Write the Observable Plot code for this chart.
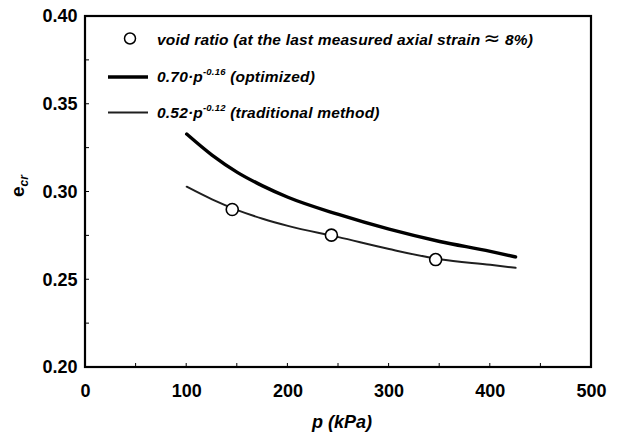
<!DOCTYPE html>
<html><head><meta charset="utf-8">
<script src="https://cdn.jsdelivr.net/npm/d3@7"></script>
<script src="https://cdn.jsdelivr.net/npm/@observablehq/plot@0.6"></script>
<style>body{margin:0;background:#fff;} #chart{width:618px;height:436px;}</style>
</head><body><div id="chart"></div>
<script>
// values
const pGrid = [100, 125, 150, 175, 200, 250, 300, 350, 400, 425];
const eOptimized = [0.333, 0.321, 0.3112, 0.3035, 0.297, 0.2872, 0.2788, 0.2718, 0.2662, 0.263];
const eTraditional = [0.303, 0.2958, 0.2897, 0.2848, 0.2807, 0.2743, 0.2675, 0.2617, 0.2585, 0.2568];
const pMeasured = [145, 243, 346];
const eMeasured = [0.290, 0.2754, 0.2615];
const xTicks = [0, 100, 200, 300, 400, 500];
const xMinorTicks = [50, 100, 150, 200, 250, 300, 350, 400, 450];
const yTicks = [0.20, 0.25, 0.30, 0.35, 0.40];
const yMinorTicks = [0.225, 0.25, 0.275, 0.30, 0.325, 0.35, 0.375];
const legendLabels = ["void ratio (at the last measured axial strain", "\u2248", " 8%)", "(optimized)", "(traditional method)"];

const optData = pGrid.map((p, i) => ({p, e: eOptimized[i]}));
const tradData = pGrid.map((p, i) => ({p, e: eTraditional[i]}));
const measData = pMeasured.map((p, i) => ({p, e: eMeasured[i]}));

const FONT = "'Liberation Sans', Arial, Helvetica, sans-serif";

const plot = Plot.plot({
  width: 618, height: 436,
  marginLeft: 85, marginRight: 27, marginTop: 16, marginBottom: 69,
  style: {fontFamily: FONT, background: "white", color: "black", overflow: "visible"},
  x: {domain: [0, 500]},
  y: {domain: [0.2, 0.4]},
  marks: [
    Plot.axisX(xTicks, {tickSize: 0, tickPadding: 17, fontSize: 18, fontWeight: "bold", label: null}),
    Plot.axisY(yTicks, {tickSize: 0, tickPadding: 8, fontSize: 18, fontWeight: "bold", tickFormat: d3.format(".2f"), label: null}),
    Plot.line(tradData, {x: "p", y: "e", stroke: "#1f1f1f", strokeWidth: 2, curve: "monotone-x"}),
    Plot.line(optData, {x: "p", y: "e", stroke: "black", strokeWidth: 3.4, curve: "monotone-x"}),
    Plot.dot(measData, {x: "p", y: "e", r: 6, fill: "white", stroke: "black", strokeWidth: 1.6})
  ]
});
document.getElementById("chart").appendChild(plot);

const svg = d3.select(plot);
const sx = plot.scale("x"), sy = plot.scale("y");
const [xa, xb] = sx.range, [ya, yb] = sy.range; // ya bottom, yb top

// frame
svg.append("rect").attr("x", xa).attr("y", yb).attr("width", xb - xa).attr("height", ya - yb)
  .attr("fill", "none").attr("stroke", "black").attr("stroke-width", 2.2);

// inward ticks
const tg = svg.append("g").attr("stroke", "black").attr("stroke-width", 1);
xMinorTicks.forEach(v => tg.append("line").attr("x1", sx.apply(v)).attr("x2", sx.apply(v)).attr("y1", ya).attr("y2", ya - 4));
yMinorTicks.forEach(v => tg.append("line").attr("x1", xa).attr("x2", xa + 4).attr("y1", sy.apply(v)).attr("y2", sy.apply(v)));

// axis labels
svg.append("text").attr("x", 342).attr("y", 428).attr("text-anchor", "middle")
  .attr("font-family", FONT).attr("font-size", 18).attr("font-weight", "bold").attr("font-style", "italic")
  .text("p (kPa)");
const yl = svg.append("text").attr("transform", "translate(24,186) rotate(-90)").attr("text-anchor", "middle")
  .attr("font-family", FONT).attr("font-size", 19).attr("font-weight", "bold");
yl.append("tspan").text("e");
yl.append("tspan").attr("font-size", 12).attr("font-style", "italic").attr("dy", 4).text("cr");

// legend
const lg = svg.append("g").attr("font-family", FONT).attr("font-size", 15.5).attr("font-weight", "bold")
  .attr("font-style", "italic").attr("text-anchor", "start").attr("letter-spacing", 0.2);
lg.append("circle").attr("cx", 130).attr("cy", 38.5).attr("r", 5.5).attr("fill", "white").attr("stroke", "black").attr("stroke-width", 1.5);
const t1 = lg.append("text").attr("x", 157).attr("y", 45);
t1.append("tspan").text(legendLabels[0]);
t1.append("tspan").attr("dx", 3).attr("font-size", 20).attr("font-weight", "normal").attr("font-style", "normal")
  .attr("font-family", "'DejaVu Sans', sans-serif").text(legendLabels[1]);
t1.append("tspan").text(legendLabels[2]);
lg.append("line").attr("x1", 108).attr("x2", 148).attr("y1", 77).attr("y2", 77).attr("stroke", "black").attr("stroke-width", 3.4);
const t2 = lg.append("text").attr("x", 157).attr("y", 82);
t2.append("tspan").text("0.70\u00b7p");
t2.append("tspan").attr("font-size", 9.5).attr("dy", -7).text("-0.16");
t2.append("tspan").attr("dy", 7).text(" " + legendLabels[3]);
lg.append("line").attr("x1", 108).attr("x2", 148).attr("y1", 112.5).attr("y2", 112.5).attr("stroke", "#1f1f1f").attr("stroke-width", 2);
const t3 = lg.append("text").attr("x", 157).attr("y", 118);
t3.append("tspan").text("0.52\u00b7p");
t3.append("tspan").attr("font-size", 9.5).attr("dy", -7).text("-0.12");
t3.append("tspan").attr("dy", 7).text(" " + legendLabels[4]);
</script>
</body></html>
